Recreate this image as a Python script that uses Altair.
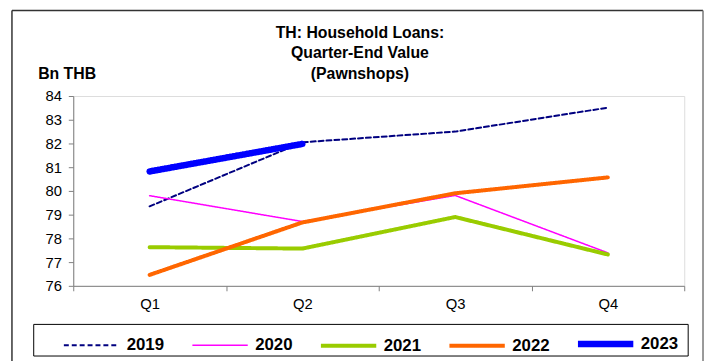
import altair as alt
import pandas as pd

quarters = ["Q1", "Q2", "Q3", "Q4"]
years = ["2019", "2020", "2021", "2022", "2023"]
v2019 = [79.35, 82.05, 82.50, 83.51]
v2020 = [79.80, 78.71, 79.81, 77.39]
v2021 = [77.63, 77.57, 78.90, 77.32]
v2022 = [76.46, 78.67, 79.90, 80.57]
v2023 = [80.82, 81.98]
title_lines = ["TH: Household Loans:", "Quarter-End Value", "(Pawnshops)"]

colors = ["#000080", "#FF00FF", "#99CC00", "#FF6600", "#0000FF"]
widths = [2, 1.5, 4, 4, 6.5]
dashes = [[5, 3], [1, 0], [1, 0], [1, 0], [1, 0]]

rows = []
for y, vals in zip(years, [v2019, v2020, v2021, v2022, v2023]):
    for q, v in zip(quarters, vals):
        rows.append({"year": y, "quarter": q, "value": v})
df = pd.DataFrame(rows)

FONT = "Liberation Sans"
AXC = "#808080"

lines = alt.Chart(df).mark_line(strokeCap="round", strokeJoin="round").encode(
    x=alt.X("quarter:N", sort=quarters, bandPosition=0.5,
            scale=alt.Scale(type="band", paddingInner=0, paddingOuter=0),
            axis=alt.Axis(title=None, tickBand="extent", labelAngle=0,
                          labelFont=FONT, labelFontSize=15, labelColor="black",
                          labelPadding=6, tickSize=5, tickColor=AXC,
                          domainColor=AXC, grid=False)),
    y=alt.Y("value:Q", scale=alt.Scale(domain=[76, 84], nice=False, zero=False),
            axis=alt.Axis(values=list(range(76, 85)), grid=False, tickSize=5,
                          tickColor=AXC, domainColor=AXC, labelFont=FONT,
                          labelFontSize=15, labelColor="black", labelPadding=7,
                          title="Bn THB", titleAngle=0, titleAlign="left",
                          titleBaseline="middle", titleX=-36, titleY=-23,
                          titleFont=FONT, titleFontSize=16, titleFontWeight="bold",
                          titleColor="black")),
    color=alt.Color("year:N", sort=years,
                    scale=alt.Scale(domain=years, range=colors),
                    legend=alt.Legend(title=None, orient="none", legendX=-13, legendY=219,
                                      direction="horizontal", columns=5, gridAlign="all",
                                      columnPadding=15,
                                      labelOffset=4, padding=0, labelFont=FONT,
                                      labelFontSize=17, labelFontWeight="bold",
                                      labelColor="black", symbolType="stroke",
                                      symbolSize=3136)),
    strokeDash=alt.StrokeDash("year:N", sort=years,
                              scale=alt.Scale(domain=years, range=dashes)),
    strokeWidth=alt.StrokeWidth("year:N", sort=years,
                                scale=alt.Scale(type="ordinal", domain=years, range=widths)),
    order=alt.Order("year:N"),
)

deco = pd.DataFrame({"a": [0]})
title_text = alt.Chart(deco).mark_text(
    text=title_lines, font=FONT, fontSize=16, fontWeight="bold", lineHeight=21,
    align="center", baseline="middle", color="black"
).encode(x=alt.value(290), y=alt.value(-64))
legend_box = alt.Chart(deco).mark_rect(fillOpacity=0, stroke="black", strokeWidth=1).encode(
    x=alt.value(-40), x2=alt.value(622), y=alt.value(231), y2=alt.value(263))
frame_left = alt.Chart(deco).mark_rule(color="#333333", strokeWidth=1.5).encode(
    x=alt.value(-62), y=alt.value(-86.5), y2=alt.value(270))
frame_top = alt.Chart(deco).mark_rule(color="#333333", strokeWidth=1.5).encode(
    x=alt.value(-62), x2=alt.value(637), y=alt.value(-86.5))
frame_right = alt.Chart(deco).mark_rule(color="#777777", strokeWidth=1.5).encode(
    x=alt.value(637), y=alt.value(-86.5), y2=alt.value(270))

chart = alt.layer(frame_left, frame_top, frame_right, legend_box, title_text, lines).properties(
    width=618, height=192,
    padding={"left": 66, "top": 87, "right": 20, "bottom": 74},
    autosize=alt.AutoSizeParams(type="none"),
).configure_view(stroke=None).configure(background="white")

chart.save("out.html", embed_options={"renderer": "svg", "actions": False})
